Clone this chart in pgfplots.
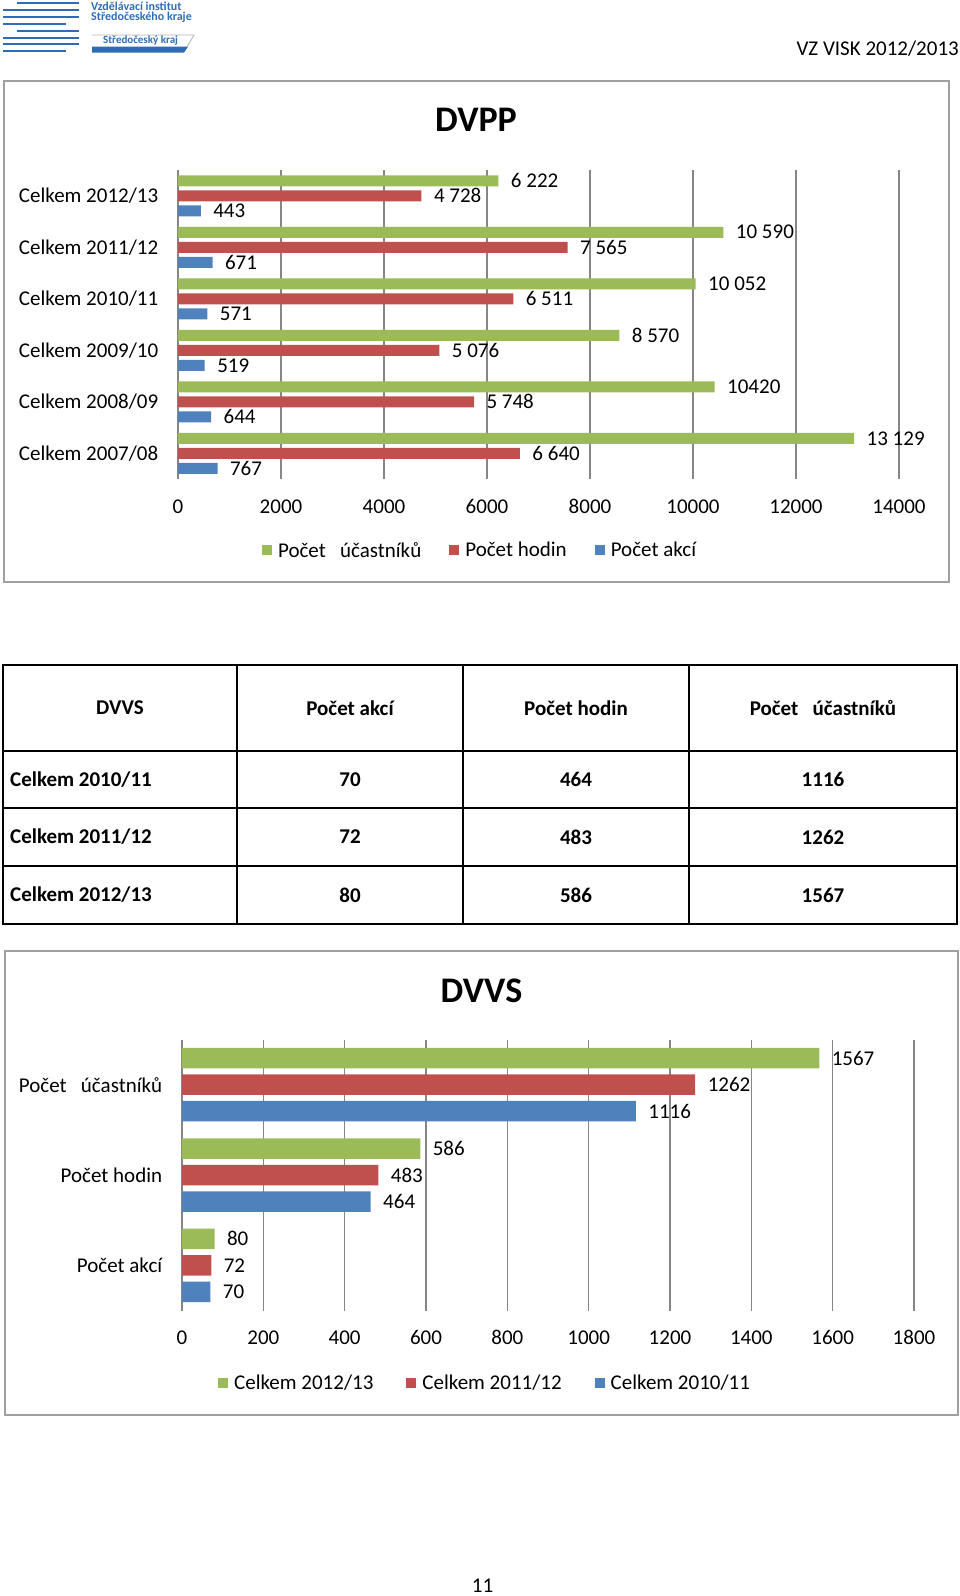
\documentclass[border=0pt]{standalone}
\usepackage{pgfplots}
\pgfplotsset{compat=1.18}
\usepackage{fontspec}
\setmainfont{Carlito}
\definecolor{cgreen}{HTML}{9BBB59}
\definecolor{cred}{HTML}{C0504D}
\definecolor{cblue}{HTML}{4F81BD}
\definecolor{cgrid}{HTML}{868686}
\definecolor{cframe}{HTML}{A0A0A0}
\definecolor{clogo}{HTML}{2E6DB5}
\newcommand{\f}{\fontsize{21}{25}\selectfont}
\pgfplotsset{
  excelbar/.style={
    scale only axis,
    scaled x ticks=false,
    xticklabel style={/pgf/number format/fixed, /pgf/number format/1000 sep={},
      /pgf/number format/assume math mode=true, font=\f, anchor=base, yshift=-34pt},
    yticklabel style={font=\f, xshift=-12pt},
    tick style={draw=none},
    axis line style={draw=none},
    xmajorgrids, grid style={cgrid, line width=1.2pt},
    legend columns=3, reverse legend,
    legend style={draw=none, fill=none, font=\f, anchor=center},
  },
  labels/.style={
    nodes near coords, point meta=explicit symbolic,
    nodes near coords align=horizontal,
    every node near coord/.append style={font=\f, text=black, anchor=west, xshift=9pt},
  },
  sq/.style={legend image code/.code={\fill[##1] (0pt,-5pt) rectangle (10pt,5pt); \path (14pt,0pt);}},
}
\begin{document}
\begin{tikzpicture}[font=\f]
\begin{scope}[x=1pt,y=-1pt]
\useasboundingbox (0,0) rectangle (960,1596);
% logo
\foreach \ya/\xa/\xb in {3.3/17/79, 10/3/79, 16.7/3/79, 24/3/66, 31/17/79, 37.7/3/79, 44.3/3/79, 51/3/66}
  \draw[clogo, line width=1.8pt] (\xa,\ya) -- (\xb,\ya);
\node[anchor=west, inner sep=0, text=clogo, font=\fontsize{12}{13}\selectfont\bfseries] at (91,6.7) {Vzdělávací institut};
\node[anchor=west, inner sep=0, text=clogo, font=\fontsize{12}{13}\selectfont\bfseries] at (91,17.7) {Středočeského kraje};
\draw[gray!60, line width=0.8pt] (92,35) -- (194,35) -- (184,52);
\fill[clogo] (92,46.5) -- (188,46.5) -- (184,52.5) -- (92,52.5) -- cycle;
\node[anchor=west, inner sep=0, text=clogo, font=\fontsize{11}{12}\selectfont\bfseries] at (103,40.5) {Středočeský kraj};
\node[anchor=east, inner sep=0] at (959,49) {VZ VISK 2012/2013};
% frames and titles
\draw[cframe, line width=2pt] (4,81) rectangle (949,582);
\draw[cframe, line width=2pt] (5,951) rectangle (958,1415);
\node[font=\fontsize{36}{40}\selectfont\bfseries] at (476,120) {DVPP};
\node[font=\fontsize{36}{40}\selectfont\bfseries] at (481.5,990.5) {DVVS};
% table
\draw[line width=2pt] (3,665) rectangle (957,924);
\foreach \y in {751,808,866} \draw[line width=2pt] (3,\y) -- (957,\y);
\foreach \x in {237,463,689} \draw[line width=2pt] (\x,665) -- (\x,924);
\begin{scope}[every node/.style={font=\f\bfseries}]
\node at (120,708) {DVVS};
\node at (350,708) {Počet akcí};
\node at (576,708) {Počet hodin};
\node at (823,708) {Počet\ \ \ účastníků};
\node[anchor=west, inner sep=0] at (10,779.5) {Celkem 2010/11};
\node[anchor=west, inner sep=0] at (10,837) {Celkem 2011/12};
\node[anchor=west, inner sep=0] at (10,895) {Celkem 2012/13};
\node at (350,779.5) {70};  \node at (576,779.5) {464}; \node at (823,779.5) {1116};
\node at (350,837) {72};    \node at (576,837) {483};   \node at (823,837) {1262};
\node at (350,895) {80};    \node at (576,895) {586};   \node at (823,895) {1567};
\end{scope}
\node at (482.5,1586) {11};
\end{scope}

% DVPP chart
\begin{axis}[
  excelbar,
  at={(178pt,-479pt)}, anchor=south west,
  width=721pt, height=309pt,
  xbar=4pt, bar width=11pt,
  labels,
  xmin=0, xmax=14000, ymin=-0.5, ymax=5.5,
  xtick={0,2000,...,14000},
  ytick={0,...,5},
  yticklabels={Celkem 2007/08, Celkem 2008/09, Celkem 2009/10, Celkem 2010/11, Celkem 2011/12, Celkem 2012/13},
  legend style={at={(0.419,-0.231)}, /tikz/every even column/.append style={column sep=26pt}},
]
\addplot[fill=cblue, draw=none, sq] coordinates {
  (767,0) [767] (644,1) [644] (519,2) [519] (571,3) [571] (671,4) [671] (443,5) [443]};
\addlegendentry{Počet akcí}
\addplot[fill=cred, draw=none, sq] coordinates {
  (6640,0) [6 640] (5748,1) [5 748] (5076,2) [5 076] (6511,3) [6 511] (7565,4) [7 565] (4728,5) [4 728]};
\addlegendentry{Počet hodin}
\addplot[fill=cgreen, draw=none, sq] coordinates {
  (13129,0) [13 129] (10420,1) [10420] (8570,2) [8 570] (10052,3) [10 052] (10590,4) [10 590] (6222,5) [6 222]};
\addlegendentry{Počet\ \ \ účastníků}
\end{axis}

% DVVS chart
\begin{axis}[
  excelbar,
  at={(182pt,-1310.5pt)}, anchor=south west,
  width=732pt, height=271pt,
  xbar=6pt, bar width=20.5pt,
  labels,
  xmin=0, xmax=1800, ymin=-0.5, ymax=2.5,
  xtick={0,200,...,1800},
  ytick={0,1,2},
  yticklabels={Počet akcí, Počet hodin, {Počet\ \ \ účastníků}},
  legend style={at={(0.414,-0.266)}, /tikz/every even column/.append style={column sep=31pt}},
]
\addplot[fill=cblue, draw=none, sq] coordinates {(70,0) [70] (464,1) [464] (1116,2) [1116]};
\addlegendentry{Celkem 2010/11}
\addplot[fill=cred, draw=none, sq] coordinates {(72,0) [72] (483,1) [483] (1262,2) [1262]};
\addlegendentry{Celkem 2011/12}
\addplot[fill=cgreen, draw=none, sq] coordinates {(80,0) [80] (586,1) [586] (1567,2) [1567]};
\addlegendentry{Celkem 2012/13}
\end{axis}
\end{tikzpicture}
\end{document}
